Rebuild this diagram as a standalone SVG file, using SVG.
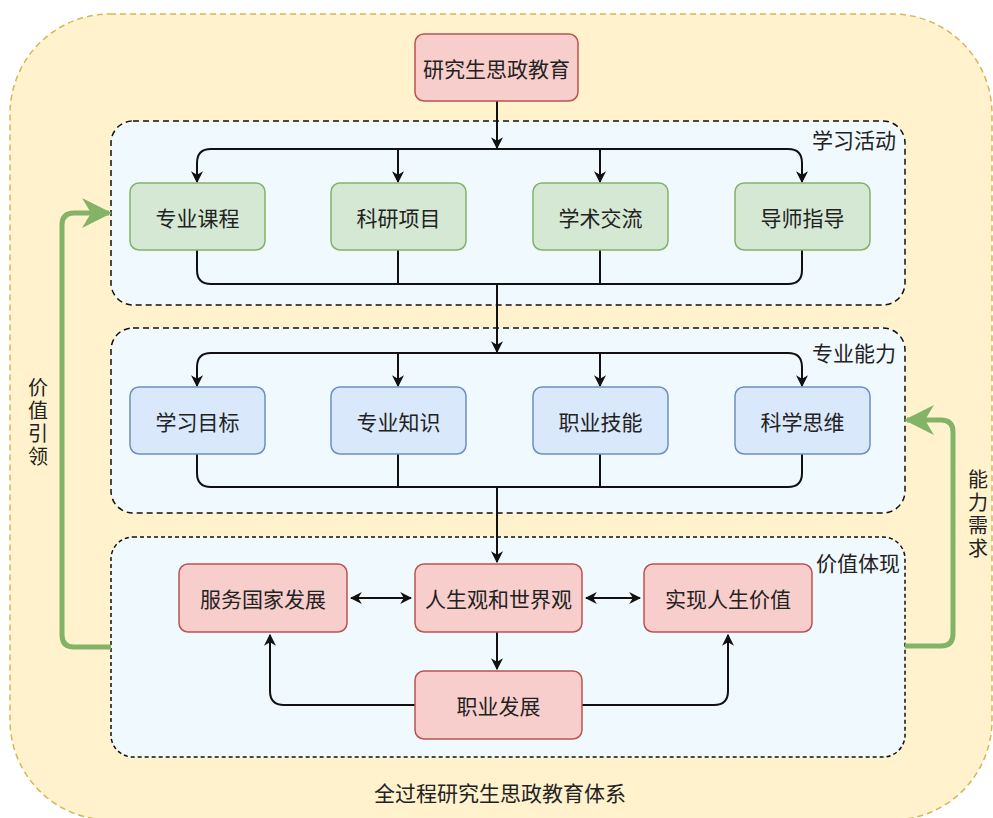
<svg xmlns="http://www.w3.org/2000/svg" width="993" height="818" viewBox="0 0 993 818">
<style>
text{font-family:"Noto Sans CJK SC","Noto Sans",sans-serif;fill:#222;dominant-baseline:central;text-anchor:middle}
.t{font-size:21px}
.lbl{font-size:21px;text-anchor:end}
.v{font-size:20px;writing-mode:vertical-rl;letter-spacing:3px;dominant-baseline:auto}
.grp{fill:#f0f9fe;stroke:#111;stroke-width:1.5;stroke-dasharray:6 4}
.red{fill:#f8cecc;stroke:#b85450;stroke-width:1.5}
.grn{fill:#d5e8d4;stroke:#82b366;stroke-width:1.5}
.blu{fill:#dae8fc;stroke:#6c8ebf;stroke-width:1.5}
.ln{fill:none;stroke:#111;stroke-width:2}
.ar{marker-end:url(#a)}
.g{fill:none;stroke:#82b366;stroke-width:5;marker-end:url(#ga)}
</style>
<defs>
<marker id="a" viewBox="0 0 10 10" refX="9" refY="5" markerWidth="12" markerHeight="12" markerUnits="userSpaceOnUse" orient="auto-start-reverse">
<path d="M0,0 L10,5 L0,10 L3,5 Z" fill="#111"/>
</marker>
<marker id="ga" viewBox="0 0 10 10" refX="9" refY="5" markerWidth="30" markerHeight="30" markerUnits="userSpaceOnUse" orient="auto">
<path d="M0,0 L10,5 L0,10 L3,5 Z" fill="#82b366"/>
</marker>
</defs>
<rect width="993" height="818" fill="#fff"/>
<g id="outer">
<rect x="10" y="14" width="982" height="806" rx="100" fill="#fff2cc" stroke="#d6b656" stroke-width="1.5" stroke-dasharray="6 4"/>
<text class="t" x="500" y="792">全过程研究生思政教育体系</text>
</g>
<g id="group-xuexi">
<rect class="grp" x="111" y="121" width="794" height="184" rx="22"/>
<text class="lbl" x="896" y="139">学习活动</text>
</g>
<g id="group-nengli">
<rect class="grp" x="111" y="328" width="794" height="185" rx="22"/>
<text class="lbl" x="896" y="352">专业能力</text>
</g>
<g id="group-jiazhi">
<rect class="grp" x="111" y="537" width="794" height="220" rx="22" style="stroke-dasharray:4 3"/>
<text class="lbl" x="900" y="562">价值体现</text>
</g>
<g id="connectors">
<path class="ln ar" d="M497,101 V148"/>
<path class="ln ar" d="M497,149 H211 Q197,149 197,163 V182"/>
<path class="ln ar" d="M497,149 H788 Q802,149 802,163 V182"/>
<path class="ln ar" d="M398,149 V182"/>
<path class="ln ar" d="M600,149 V182"/>
<path class="ln" d="M197,250 V270 Q197,284 211,284 H788 Q802,284 802,270 V250"/>
<path class="ln" d="M398,250 V284"/>
<path class="ln" d="M600,250 V284"/>
<path class="ln ar" d="M497,284 V352"/>
<path class="ln ar" d="M497,353 H211 Q197,353 197,367 V386"/>
<path class="ln ar" d="M497,353 H788 Q802,353 802,367 V386"/>
<path class="ln ar" d="M398,353 V386"/>
<path class="ln ar" d="M600,353 V386"/>
<path class="ln" d="M197,454 V473 Q197,487 211,487 H788 Q802,487 802,473 V454"/>
<path class="ln" d="M398,454 V487"/>
<path class="ln" d="M600,454 V487"/>
<path class="ln ar" d="M497,487 V562"/>
<path class="ln ar" d="M351,598 H411" style="marker-start:url(#a)"/>
<path class="ln ar" d="M586,598 H640" style="marker-start:url(#a)"/>
<path class="ln ar" d="M497,632 V669"/>
<path class="ln ar" d="M415,705 H284 Q270,705 270,691 V635"/>
<path class="ln ar" d="M582,705 H714 Q728,705 728,691 V635"/>
<path class="g" d="M111,647 H74 Q62,647 62,635 V225 Q62,213 74,213 H109"/>
<path class="g" d="M905,646 H941 Q953,646 953,634 V432 Q953,420 941,420 H907"/>
</g>
<g id="lbl-jiazhiyinling">
<text class="v" x="38" y="423">价值引领</text>
</g>
<g id="lbl-nenglixuqiu">
<text class="v" x="978" y="515">能力需求</text>
</g>
<g id="n-top"><rect class="red" x="415" y="34" width="163" height="67" rx="9"/><text class="t" x="496.5" y="68">研究生思政教育</text></g>
<g id="n-kecheng"><rect class="grn" x="130" y="183" width="135" height="67" rx="9"/><text class="t" x="197.5" y="217">专业课程</text></g>
<g id="n-keyan"><rect class="grn" x="331" y="183" width="135" height="67" rx="9"/><text class="t" x="398.5" y="217">科研项目</text></g>
<g id="n-jiaoliu"><rect class="grn" x="533" y="183" width="135" height="67" rx="9"/><text class="t" x="600.5" y="217">学术交流</text></g>
<g id="n-daoshi"><rect class="grn" x="735" y="183" width="135" height="67" rx="9"/><text class="t" x="802.5" y="217">导师指导</text></g>
<g id="n-mubiao"><rect class="blu" x="130" y="387" width="135" height="67" rx="9"/><text class="t" x="197.5" y="421">学习目标</text></g>
<g id="n-zhishi"><rect class="blu" x="331" y="387" width="135" height="67" rx="9"/><text class="t" x="398.5" y="421">专业知识</text></g>
<g id="n-jineng"><rect class="blu" x="533" y="387" width="135" height="67" rx="9"/><text class="t" x="600.5" y="421">职业技能</text></g>
<g id="n-siwei"><rect class="blu" x="735" y="387" width="135" height="67" rx="9"/><text class="t" x="802.5" y="421">科学思维</text></g>
<g id="n-guojia"><rect class="red" x="179" y="564" width="168" height="68" rx="9"/><text class="t" x="263" y="598">服务国家发展</text></g>
<g id="n-rensheng"><rect class="red" x="415" y="564" width="167" height="68" rx="9"/><text class="t" x="498.5" y="598">人生观和世界观</text></g>
<g id="n-shixian"><rect class="red" x="644" y="564" width="168" height="68" rx="9"/><text class="t" x="728" y="598">实现人生价值</text></g>
<g id="n-zhiye"><rect class="red" x="415" y="671" width="167" height="68" rx="9"/><text class="t" x="498.5" y="705">职业发展</text></g>
</svg>
